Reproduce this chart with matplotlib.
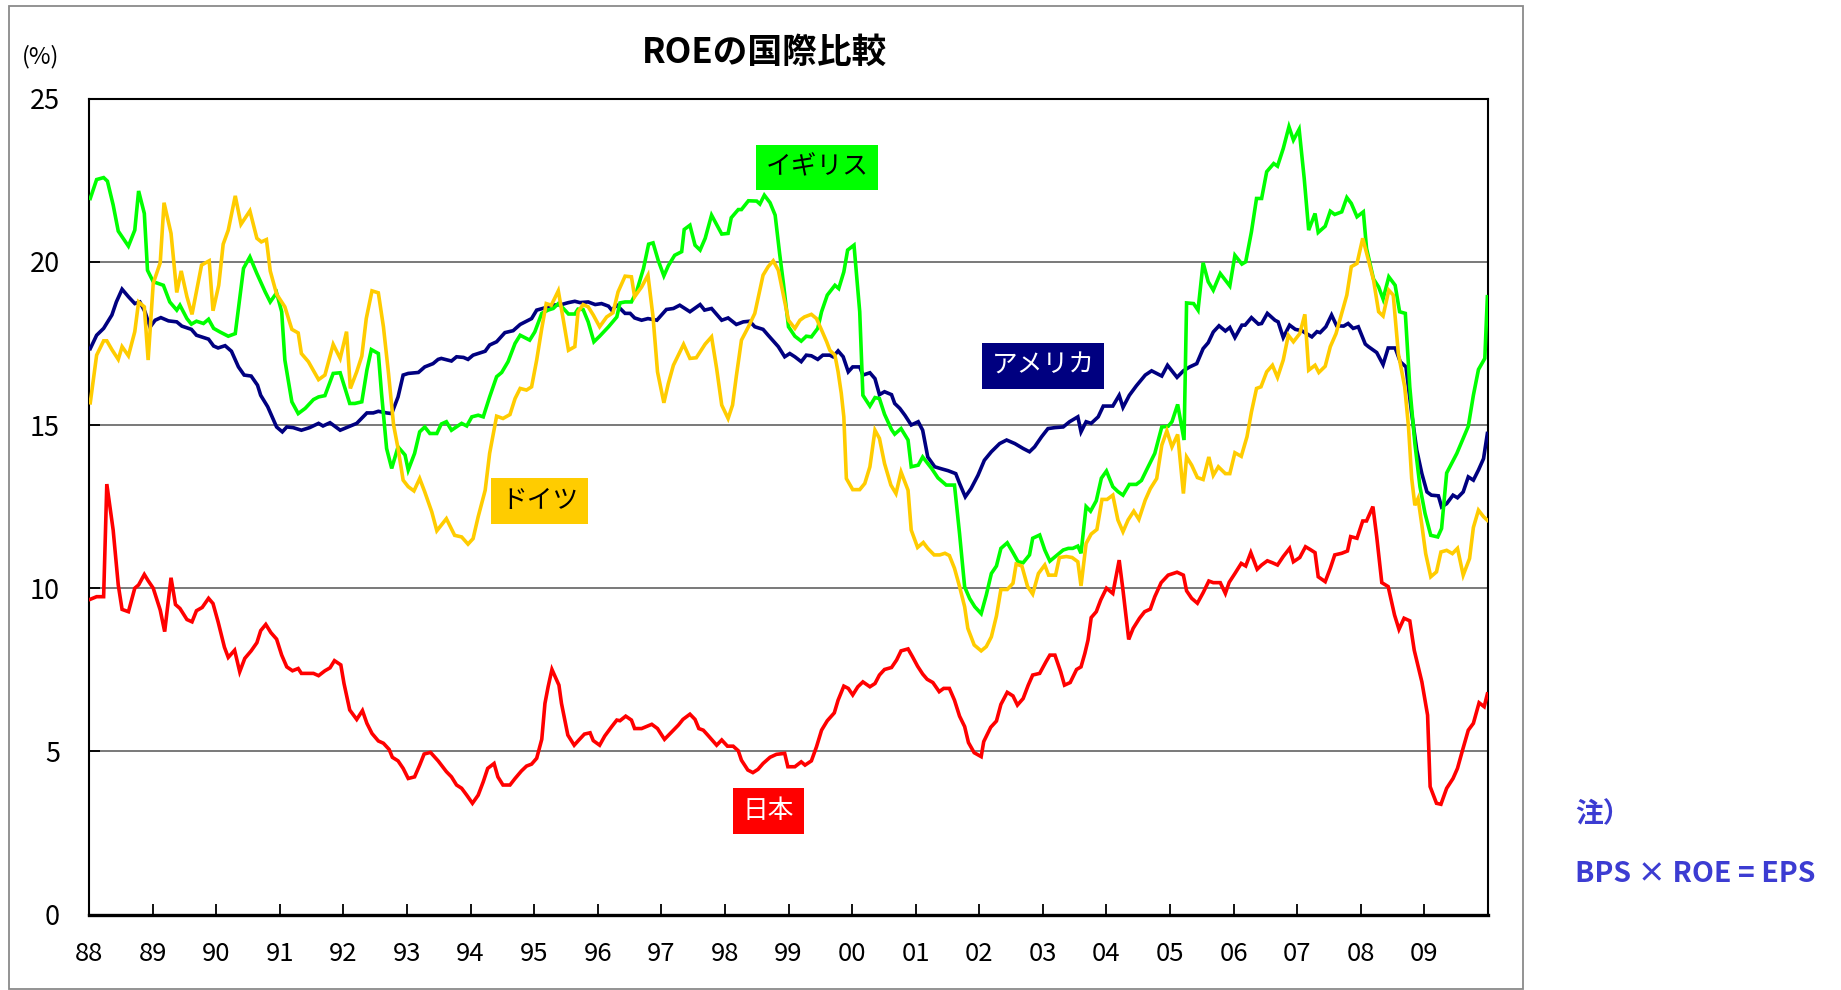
import matplotlib
matplotlib.use("Agg")
import matplotlib.pyplot as plt
from matplotlib.patches import Rectangle

plt.rcParams["font.family"] = ["Noto Sans CJK JP", "DejaVu Sans"]

# (decimal year, ROE %)
usa = [
    (1988.02, 17.34), (1988.12, 17.75), (1988.23, 17.96), (1988.36, 18.37), (1988.43, 18.77),
    (1988.52, 19.16), (1988.62, 18.93), (1988.72, 18.72), (1988.80, 18.77), (1988.88, 18.47),
    (1988.96, 18.00), (1989.04, 18.21), (1989.13, 18.29), (1989.25, 18.19), (1989.38, 18.16),
    (1989.46, 18.03), (1989.61, 17.93), (1989.69, 17.75), (1989.88, 17.63), (1989.96, 17.42),
    (1990.03, 17.36), (1990.14, 17.43), (1990.24, 17.26), (1990.35, 16.78), (1990.44, 16.53),
    (1990.55, 16.50), (1990.65, 16.22), (1990.70, 15.91), (1990.81, 15.56), (1990.95, 14.94),
    (1991.04, 14.79), (1991.11, 14.94), (1991.21, 14.92), (1991.34, 14.84), (1991.47, 14.92),
    (1991.61, 15.05), (1991.68, 14.97), (1991.79, 15.07), (1991.95, 14.84), (1992.05, 14.92),
    (1992.21, 15.05), (1992.37, 15.37), (1992.47, 15.37), (1992.55, 15.42), (1992.68, 15.37),
    (1992.76, 15.35), (1992.86, 15.86), (1992.94, 16.53), (1993.02, 16.58), (1993.18, 16.61),
    (1993.28, 16.78), (1993.41, 16.88), (1993.49, 17.01), (1993.54, 17.04), (1993.70, 16.96),
    (1993.78, 17.09), (1993.89, 17.07), (1993.96, 17.01), (1994.04, 17.14), (1994.23, 17.26),
    (1994.30, 17.45), (1994.41, 17.55), (1994.54, 17.83), (1994.67, 17.89), (1994.78, 18.08),
    (1994.96, 18.26), (1995.04, 18.52), (1995.17, 18.59), (1995.27, 18.67), (1995.43, 18.69),
    (1995.54, 18.75), (1995.64, 18.79), (1995.72, 18.75), (1995.85, 18.77), (1995.96, 18.69),
    (1996.06, 18.72), (1996.17, 18.64), (1996.22, 18.52), (1996.30, 18.67), (1996.43, 18.42),
    (1996.51, 18.42), (1996.58, 18.28), (1996.69, 18.21), (1996.79, 18.26), (1996.93, 18.21),
    (1997.08, 18.54), (1997.19, 18.57), (1997.29, 18.67), (1997.45, 18.47), (1997.61, 18.69),
    (1997.68, 18.52), (1997.79, 18.57), (1997.95, 18.21), (1998.05, 18.28), (1998.18, 18.08),
    (1998.29, 18.16), (1998.39, 18.18), (1998.47, 18.01), (1998.60, 17.93), (1998.68, 17.75),
    (1998.84, 17.40), (1998.94, 17.09), (1999.02, 17.19), (1999.10, 17.09), (1999.20, 16.94),
    (1999.28, 17.14), (1999.36, 17.12), (1999.46, 17.01), (1999.54, 17.14), (1999.65, 17.14),
    (1999.70, 17.09), (1999.78, 17.27), (1999.86, 17.09), (1999.94, 16.63), (2000.01, 16.78),
    (2000.12, 16.78), (2000.17, 16.53), (2000.28, 16.60), (2000.36, 16.42), (2000.43, 15.93),
    (2000.51, 16.02), (2000.62, 15.93), (2000.67, 15.66), (2000.75, 15.51), (2000.83, 15.30),
    (2000.93, 15.00), (2001.04, 15.10), (2001.11, 14.84), (2001.19, 14.02), (2001.30, 13.72),
    (2001.40, 13.66), (2001.51, 13.60), (2001.63, 13.51), (2001.69, 13.21), (2001.78, 12.80),
    (2001.87, 13.05), (2001.98, 13.46), (2002.08, 13.92), (2002.19, 14.18), (2002.32, 14.43),
    (2002.43, 14.54), (2002.56, 14.43), (2002.69, 14.28), (2002.79, 14.18), (2002.87, 14.33),
    (2002.98, 14.64), (2003.08, 14.89), (2003.19, 14.92), (2003.32, 14.94), (2003.42, 15.10),
    (2003.55, 15.25), (2003.60, 14.79), (2003.68, 15.10), (2003.76, 15.05), (2003.87, 15.25),
    (2003.95, 15.58), (2004.10, 15.58), (2004.20, 15.91), (2004.26, 15.54), (2004.36, 15.91),
    (2004.47, 16.20), (2004.61, 16.53), (2004.71, 16.66), (2004.87, 16.50), (2004.96, 16.83),
    (2005.11, 16.46), (2005.21, 16.66), (2005.31, 16.78), (2005.42, 16.88), (2005.52, 17.34),
    (2005.60, 17.52), (2005.68, 17.85), (2005.77, 18.04), (2005.87, 17.88), (2005.94, 17.99),
    (2006.02, 17.68), (2006.13, 18.06), (2006.18, 18.06), (2006.28, 18.29), (2006.39, 18.09),
    (2006.44, 18.11), (2006.53, 18.42), (2006.65, 18.21), (2006.70, 18.16), (2006.78, 17.68),
    (2006.88, 18.06), (2006.97, 17.93), (2007.07, 17.89), (2007.23, 17.70), (2007.31, 17.86),
    (2007.36, 17.83), (2007.45, 18.01), (2007.54, 18.37), (2007.62, 18.04), (2007.73, 18.03),
    (2007.80, 18.11), (2007.88, 17.96), (2007.96, 18.01), (2008.07, 17.48), (2008.12, 17.40),
    (2008.25, 17.22), (2008.35, 16.85), (2008.43, 17.36), (2008.54, 17.36), (2008.62, 16.94),
    (2008.71, 16.78), (2008.80, 15.35), (2008.88, 14.23), (2008.96, 13.51), (2009.04, 12.95),
    (2009.11, 12.85), (2009.22, 12.83), (2009.27, 12.49), (2009.35, 12.59), (2009.45, 12.85),
    (2009.52, 12.77), (2009.61, 12.95), (2009.69, 13.41), (2009.77, 13.31), (2009.85, 13.62),
    (2009.93, 13.97), (2009.99, 14.74),
]

uk = [
    (1988.02, 21.94), (1988.12, 22.52), (1988.23, 22.58), (1988.29, 22.47), (1988.38, 21.74),
    (1988.46, 20.94), (1988.62, 20.48), (1988.72, 20.97), (1988.78, 22.17), (1988.87, 21.48),
    (1988.92, 19.74), (1989.01, 19.39), (1989.17, 19.28), (1989.27, 18.77), (1989.38, 18.52),
    (1989.43, 18.67), (1989.54, 18.26), (1989.61, 18.09), (1989.69, 18.18), (1989.80, 18.11),
    (1989.88, 18.24), (1989.96, 17.96), (1990.06, 17.85), (1990.19, 17.72), (1990.30, 17.80),
    (1990.43, 19.80), (1990.53, 20.15), (1990.64, 19.64), (1990.77, 19.08), (1990.85, 18.77),
    (1990.95, 19.05), (1991.03, 18.47), (1991.08, 16.99), (1991.19, 15.71), (1991.29, 15.35),
    (1991.40, 15.51), (1991.53, 15.78), (1991.61, 15.86), (1991.71, 15.90), (1991.84, 16.58),
    (1991.95, 16.60), (1992.10, 15.66), (1992.18, 15.66), (1992.29, 15.71), (1992.37, 16.68),
    (1992.44, 17.31), (1992.55, 17.19), (1992.60, 15.97), (1992.68, 14.28), (1992.76, 13.67),
    (1992.86, 14.33), (1992.97, 14.08), (1993.02, 13.62), (1993.12, 14.13), (1993.20, 14.79),
    (1993.28, 14.94), (1993.36, 14.74), (1993.47, 14.74), (1993.54, 15.03), (1993.62, 15.10),
    (1993.70, 14.84), (1993.86, 15.05), (1993.94, 14.97), (1994.02, 15.25), (1994.12, 15.30),
    (1994.20, 15.25), (1994.30, 15.86), (1994.41, 16.48), (1994.49, 16.61), (1994.59, 16.94),
    (1994.70, 17.50), (1994.78, 17.75), (1994.93, 17.60), (1995.01, 17.85), (1995.12, 18.42),
    (1995.22, 18.52), (1995.30, 18.57), (1995.38, 18.72), (1995.46, 18.57), (1995.54, 18.40),
    (1995.64, 18.40), (1995.69, 18.55), (1995.77, 18.54), (1995.85, 18.16), (1995.94, 17.55),
    (1996.03, 17.72), (1996.17, 18.01), (1996.30, 18.31), (1996.35, 18.74), (1996.43, 18.77),
    (1996.53, 18.77), (1996.61, 19.08), (1996.72, 19.80), (1996.80, 20.54), (1996.87, 20.58),
    (1996.95, 20.05), (1997.04, 19.57), (1997.11, 19.88), (1997.21, 20.20), (1997.32, 20.31),
    (1997.36, 20.99), (1997.45, 21.12), (1997.53, 20.51), (1997.61, 20.36), (1997.69, 20.72),
    (1997.79, 21.43), (1997.95, 20.85), (1998.05, 20.87), (1998.10, 21.35), (1998.21, 21.60),
    (1998.26, 21.60), (1998.37, 21.87), (1998.50, 21.86), (1998.55, 21.77), (1998.62, 22.04),
    (1998.71, 21.81), (1998.79, 21.43), (1998.86, 20.26), (1998.92, 19.34), (1999.00, 18.01),
    (1999.10, 17.72), (1999.20, 17.57), (1999.28, 17.72), (1999.36, 17.70), (1999.46, 17.96),
    (1999.52, 18.47), (1999.61, 18.98), (1999.73, 19.28), (1999.79, 19.18), (1999.87, 19.69),
    (1999.93, 20.36), (2000.03, 20.51), (2000.12, 18.47), (2000.17, 15.91), (2000.28, 15.58),
    (2000.36, 15.84), (2000.43, 15.81), (2000.51, 15.33), (2000.62, 14.86), (2000.67, 14.72),
    (2000.77, 14.89), (2000.88, 14.54), (2000.93, 13.72), (2001.04, 13.77), (2001.11, 14.02),
    (2001.25, 13.67), (2001.35, 13.38), (2001.48, 13.16), (2001.61, 13.16), (2001.69, 11.67),
    (2001.77, 10.04), (2001.85, 9.68), (2001.93, 9.43), (2002.03, 9.22), (2002.11, 9.79),
    (2002.19, 10.45), (2002.27, 10.68), (2002.34, 11.22), (2002.44, 11.39), (2002.53, 11.09),
    (2002.61, 10.81), (2002.69, 10.78), (2002.79, 11.02), (2002.84, 11.53), (2002.95, 11.63),
    (2003.03, 11.17), (2003.11, 10.83), (2003.21, 10.99), (2003.32, 11.17), (2003.40, 11.22),
    (2003.47, 11.22), (2003.55, 11.29), (2003.60, 11.07), (2003.68, 12.50), (2003.75, 12.36),
    (2003.84, 12.68), (2003.92, 13.37), (2004.00, 13.59), (2004.10, 13.11), (2004.18, 12.96),
    (2004.26, 12.85), (2004.36, 13.18), (2004.47, 13.18), (2004.55, 13.30), (2004.63, 13.62),
    (2004.76, 14.13), (2004.87, 14.94), (2004.97, 14.96), (2005.03, 15.10), (2005.12, 15.63),
    (2005.22, 14.54), (2005.26, 18.74), (2005.37, 18.72), (2005.44, 18.52), (2005.52, 19.97),
    (2005.60, 19.39), (2005.68, 19.13), (2005.79, 19.64), (2005.87, 19.44), (2005.94, 19.26),
    (2006.02, 20.20), (2006.13, 19.93), (2006.19, 20.00), (2006.28, 20.92), (2006.36, 21.94),
    (2006.44, 21.94), (2006.52, 22.76), (2006.63, 23.01), (2006.69, 22.93), (2006.78, 23.47),
    (2006.87, 24.14), (2006.94, 23.73), (2007.03, 24.06), (2007.11, 22.55), (2007.18, 20.97),
    (2007.28, 21.48), (2007.33, 20.90), (2007.44, 21.09), (2007.52, 21.55), (2007.59, 21.45),
    (2007.70, 21.53), (2007.78, 21.97), (2007.85, 21.79), (2007.94, 21.38), (2008.04, 21.53),
    (2008.09, 20.41), (2008.20, 19.47), (2008.28, 19.23), (2008.35, 18.86), (2008.44, 19.54),
    (2008.54, 19.28), (2008.61, 18.47), (2008.70, 18.42), (2008.77, 16.17), (2008.85, 14.43),
    (2008.93, 13.11), (2009.01, 12.29), (2009.10, 11.62), (2009.21, 11.57), (2009.27, 11.83),
    (2009.35, 13.53), (2009.51, 14.13), (2009.69, 14.96), (2009.77, 15.91), (2009.85, 16.70),
    (2009.95, 17.04), (2009.99, 18.93),
]

germany = [
    (1988.02, 15.68), (1988.12, 17.14), (1988.23, 17.58), (1988.28, 17.58), (1988.36, 17.31),
    (1988.46, 17.01), (1988.52, 17.40), (1988.62, 17.12), (1988.72, 17.86), (1988.78, 18.77),
    (1988.87, 18.62), (1988.93, 16.99), (1989.01, 19.34), (1989.12, 19.97), (1989.18, 21.81),
    (1989.29, 20.87), (1989.38, 19.06), (1989.45, 19.72), (1989.54, 18.93), (1989.62, 18.39),
    (1989.77, 19.90), (1989.89, 20.03), (1989.95, 18.50), (1990.04, 19.28), (1990.11, 20.54),
    (1990.19, 20.97), (1990.30, 22.02), (1990.39, 21.15), (1990.53, 21.56), (1990.64, 20.72),
    (1990.71, 20.61), (1990.79, 20.68), (1990.85, 19.72), (1990.95, 19.01), (1991.08, 18.62),
    (1991.19, 17.93), (1991.29, 17.82), (1991.34, 17.19), (1991.45, 16.94), (1991.61, 16.39),
    (1991.71, 16.53), (1991.84, 17.47), (1991.95, 17.04), (1992.05, 17.86), (1992.11, 16.12),
    (1992.21, 16.63), (1992.29, 17.11), (1992.36, 18.26), (1992.45, 19.11), (1992.55, 19.05),
    (1992.63, 18.01), (1992.71, 16.58), (1992.79, 15.00), (1992.86, 14.28), (1992.94, 13.31),
    (1993.02, 13.11), (1993.11, 12.98), (1993.20, 13.36), (1993.28, 12.95), (1993.39, 12.34),
    (1993.47, 11.76), (1993.62, 12.13), (1993.75, 11.62), (1993.86, 11.57), (1993.96, 11.35),
    (1994.04, 11.52), (1994.12, 12.19), (1994.23, 13.00), (1994.30, 14.13), (1994.41, 15.27),
    (1994.51, 15.20), (1994.62, 15.32), (1994.70, 15.81), (1994.78, 16.12), (1994.88, 16.07),
    (1994.96, 16.17), (1995.04, 16.99), (1995.12, 17.96), (1995.19, 18.72), (1995.27, 18.67),
    (1995.38, 19.11), (1995.46, 18.21), (1995.54, 17.29), (1995.64, 17.40), (1995.69, 18.47),
    (1995.77, 18.69), (1995.85, 18.62), (1995.93, 18.37), (1996.03, 18.01), (1996.14, 18.31),
    (1996.24, 18.44), (1996.32, 19.08), (1996.43, 19.56), (1996.53, 19.54), (1996.58, 18.93),
    (1996.69, 19.23), (1996.79, 19.59), (1996.87, 18.31), (1996.94, 16.63), (1997.04, 15.68),
    (1997.11, 16.27), (1997.19, 16.83), (1997.35, 17.47), (1997.45, 17.04), (1997.55, 17.06),
    (1997.69, 17.48), (1997.79, 17.70), (1997.87, 16.73), (1997.95, 15.61), (1998.05, 15.20),
    (1998.12, 15.61), (1998.18, 16.50), (1998.26, 17.60), (1998.37, 18.01), (1998.47, 18.42),
    (1998.60, 19.59), (1998.68, 19.85), (1998.76, 20.03), (1998.84, 19.74), (1998.92, 18.98),
    (1999.00, 18.21), (1999.10, 17.96), (1999.18, 18.21), (1999.25, 18.31), (1999.36, 18.39),
    (1999.44, 18.26), (1999.52, 17.91), (1999.60, 17.55), (1999.65, 17.29), (1999.73, 17.14),
    (1999.78, 16.63), (1999.83, 15.97), (1999.87, 15.25), (1999.91, 13.36), (2000.01, 13.02),
    (2000.12, 13.02), (2000.20, 13.21), (2000.28, 13.72), (2000.36, 14.84), (2000.43, 14.59),
    (2000.51, 13.82), (2000.61, 13.16), (2000.69, 12.90), (2000.77, 13.56), (2000.88, 13.00),
    (2000.93, 11.78), (2001.03, 11.25), (2001.12, 11.40), (2001.19, 11.22), (2001.29, 11.02),
    (2001.38, 11.02), (2001.46, 11.07), (2001.53, 11.00), (2001.61, 10.61), (2001.69, 10.05),
    (2001.77, 9.43), (2001.82, 8.77), (2001.92, 8.26), (2002.03, 8.08), (2002.11, 8.21),
    (2002.19, 8.51), (2002.27, 9.15), (2002.34, 9.96), (2002.44, 9.96), (2002.53, 10.15),
    (2002.58, 10.74), (2002.67, 10.68), (2002.76, 10.05), (2002.84, 9.82), (2002.93, 10.45),
    (2003.03, 10.71), (2003.09, 10.40), (2003.20, 10.40), (2003.26, 10.94), (2003.37, 10.97),
    (2003.46, 10.94), (2003.55, 10.81), (2003.60, 10.07), (2003.68, 11.37), (2003.76, 11.66),
    (2003.85, 11.80), (2003.93, 12.72), (2004.01, 12.72), (2004.10, 12.85), (2004.18, 12.09),
    (2004.26, 11.73), (2004.34, 12.09), (2004.43, 12.36), (2004.51, 12.11), (2004.61, 12.70),
    (2004.69, 13.05), (2004.79, 13.36), (2004.87, 14.38), (2004.95, 14.82), (2005.03, 14.33),
    (2005.12, 14.71), (2005.21, 12.90), (2005.26, 14.02), (2005.34, 13.77), (2005.43, 13.39),
    (2005.52, 13.33), (2005.61, 14.02), (2005.68, 13.46), (2005.76, 13.72), (2005.87, 13.51),
    (2005.94, 13.51), (2006.02, 14.15), (2006.12, 14.04), (2006.21, 14.64), (2006.28, 15.40),
    (2006.36, 16.12), (2006.43, 16.17), (2006.52, 16.63), (2006.61, 16.83), (2006.69, 16.46),
    (2006.78, 16.99), (2006.86, 17.75), (2006.94, 17.55), (2007.04, 17.80), (2007.12, 18.39),
    (2007.18, 16.68), (2007.28, 16.83), (2007.34, 16.61), (2007.44, 16.80), (2007.52, 17.40),
    (2007.61, 17.80), (2007.70, 18.42), (2007.78, 18.98), (2007.85, 19.85), (2007.94, 19.95),
    (2008.03, 20.72), (2008.12, 20.05), (2008.20, 19.44), (2008.28, 18.47), (2008.35, 18.34),
    (2008.44, 19.13), (2008.51, 18.98), (2008.59, 17.19), (2008.69, 16.17), (2008.75, 14.94),
    (2008.80, 13.36), (2008.85, 12.54), (2008.90, 12.75), (2008.96, 11.93), (2009.02, 11.06),
    (2009.10, 10.35), (2009.19, 10.50), (2009.26, 11.11), (2009.35, 11.16), (2009.44, 11.06),
    (2009.52, 11.22), (2009.61, 10.40), (2009.71, 10.91), (2009.77, 11.86), (2009.85, 12.39),
    (2009.93, 12.19), (2009.99, 12.08),
]

japan = [
    (1988.02, 9.66), (1988.12, 9.74), (1988.23, 9.74), (1988.28, 13.19), (1988.38, 11.78),
    (1988.46, 10.10), (1988.52, 9.35), (1988.62, 9.28), (1988.72, 10.00), (1988.78, 10.10),
    (1988.87, 10.42), (1988.93, 10.23), (1989.01, 10.00), (1989.12, 9.33), (1989.19, 8.67),
    (1989.29, 10.32), (1989.36, 9.50), (1989.43, 9.38), (1989.54, 9.04), (1989.62, 8.97),
    (1989.69, 9.31), (1989.78, 9.41), (1989.88, 9.69), (1989.95, 9.53), (1990.03, 8.97),
    (1990.13, 8.19), (1990.19, 7.88), (1990.29, 8.10), (1990.37, 7.44), (1990.45, 7.85),
    (1990.55, 8.08), (1990.64, 8.33), (1990.70, 8.70), (1990.78, 8.89), (1990.86, 8.64),
    (1990.95, 8.44), (1991.03, 7.95), (1991.11, 7.59), (1991.20, 7.47), (1991.29, 7.54),
    (1991.34, 7.39), (1991.53, 7.39), (1991.61, 7.32), (1991.71, 7.47), (1991.79, 7.56),
    (1991.86, 7.78), (1991.96, 7.65), (1992.01, 7.08), (1992.10, 6.27), (1992.21, 5.98),
    (1992.30, 6.25), (1992.37, 5.86), (1992.45, 5.55), (1992.55, 5.32), (1992.63, 5.25),
    (1992.72, 5.06), (1992.77, 4.82), (1992.86, 4.71), (1992.94, 4.48), (1993.02, 4.17),
    (1993.12, 4.22), (1993.20, 4.58), (1993.27, 4.92), (1993.37, 4.97), (1993.49, 4.71),
    (1993.62, 4.38), (1993.70, 4.22), (1993.78, 3.97), (1993.86, 3.87), (1993.94, 3.66),
    (1994.03, 3.41), (1994.12, 3.66), (1994.20, 4.07), (1994.27, 4.48), (1994.37, 4.63),
    (1994.43, 4.22), (1994.51, 3.97), (1994.62, 3.97), (1994.70, 4.17), (1994.80, 4.40),
    (1994.88, 4.55), (1994.96, 4.61), (1995.04, 4.79), (1995.12, 5.37), (1995.17, 6.47),
    (1995.22, 6.98), (1995.28, 7.51), (1995.39, 7.03), (1995.43, 6.47), (1995.53, 5.50),
    (1995.63, 5.19), (1995.69, 5.32), (1995.79, 5.53), (1995.88, 5.57), (1995.93, 5.33),
    (1996.03, 5.19), (1996.11, 5.47), (1996.22, 5.76), (1996.30, 5.96), (1996.35, 5.94),
    (1996.44, 6.08), (1996.53, 5.96), (1996.58, 5.70), (1996.69, 5.70), (1996.85, 5.83),
    (1996.94, 5.70), (1997.05, 5.37), (1997.15, 5.57), (1997.27, 5.81), (1997.34, 5.98),
    (1997.45, 6.14), (1997.53, 5.98), (1997.59, 5.70), (1997.66, 5.65), (1997.73, 5.50),
    (1997.82, 5.30), (1997.87, 5.19), (1997.95, 5.35), (1998.04, 5.16), (1998.13, 5.16),
    (1998.21, 5.02), (1998.26, 4.73), (1998.36, 4.43), (1998.44, 4.35), (1998.52, 4.45),
    (1998.60, 4.63), (1998.71, 4.82), (1998.81, 4.91), (1998.94, 4.94), (1998.99, 4.53),
    (1999.10, 4.53), (1999.20, 4.68), (1999.26, 4.58), (1999.36, 4.71), (1999.44, 5.14),
    (1999.52, 5.65), (1999.61, 5.94), (1999.72, 6.18), (1999.78, 6.57), (1999.87, 7.00),
    (1999.94, 6.93), (2000.01, 6.73), (2000.09, 6.98), (2000.17, 7.13), (2000.28, 6.98),
    (2000.36, 7.08), (2000.43, 7.34), (2000.51, 7.51), (2000.62, 7.57), (2000.70, 7.80),
    (2000.77, 8.08), (2000.88, 8.14), (2000.95, 7.90), (2001.03, 7.61), (2001.11, 7.37),
    (2001.18, 7.21), (2001.27, 7.11), (2001.37, 6.83), (2001.44, 6.93), (2001.53, 6.93),
    (2001.61, 6.57), (2001.69, 6.08), (2001.77, 5.76), (2001.83, 5.27), (2001.92, 4.96),
    (2002.03, 4.84), (2002.07, 5.30), (2002.18, 5.74), (2002.27, 5.93), (2002.34, 6.44),
    (2002.44, 6.81), (2002.53, 6.70), (2002.60, 6.42), (2002.69, 6.62), (2002.77, 7.03),
    (2002.84, 7.34), (2002.95, 7.39), (2003.05, 7.75), (2003.11, 7.95), (2003.19, 7.95),
    (2003.28, 7.44), (2003.34, 7.03), (2003.43, 7.11), (2003.53, 7.51), (2003.60, 7.59),
    (2003.66, 8.00), (2003.71, 8.41), (2003.76, 9.10), (2003.84, 9.28), (2003.91, 9.64),
    (2004.00, 10.00), (2004.10, 9.84), (2004.20, 10.86), (2004.26, 9.94), (2004.35, 8.43),
    (2004.42, 8.77), (2004.52, 9.08), (2004.60, 9.28), (2004.69, 9.36), (2004.76, 9.74),
    (2004.86, 10.17), (2004.97, 10.40), (2005.11, 10.49), (2005.21, 10.40), (2005.26, 9.92),
    (2005.34, 9.69), (2005.43, 9.54), (2005.52, 9.86), (2005.61, 10.22), (2005.68, 10.17),
    (2005.79, 10.17), (2005.87, 9.84), (2005.93, 10.18), (2006.02, 10.45), (2006.12, 10.76),
    (2006.19, 10.68), (2006.27, 11.09), (2006.37, 10.58), (2006.44, 10.71), (2006.53, 10.84),
    (2006.61, 10.78), (2006.69, 10.71), (2006.78, 10.97), (2006.88, 11.22), (2006.94, 10.81),
    (2007.04, 10.94), (2007.13, 11.27), (2007.20, 11.19), (2007.28, 11.09), (2007.33, 10.35),
    (2007.44, 10.20), (2007.52, 10.61), (2007.59, 11.02), (2007.70, 11.07), (2007.79, 11.14),
    (2007.84, 11.58), (2007.94, 11.53), (2008.03, 12.06), (2008.09, 12.06), (2008.19, 12.50),
    (2008.25, 11.58), (2008.33, 10.17), (2008.43, 10.05), (2008.53, 9.18), (2008.60, 8.74),
    (2008.68, 9.08), (2008.77, 9.00), (2008.84, 8.10), (2008.96, 7.13), (2009.05, 6.11),
    (2009.09, 3.92), (2009.19, 3.41), (2009.26, 3.38), (2009.35, 3.87), (2009.45, 4.17),
    (2009.52, 4.48), (2009.60, 5.04), (2009.69, 5.65), (2009.77, 5.86), (2009.86, 6.49),
    (2009.94, 6.37), (2009.99, 6.76),
]

years = list(range(1988, 2010))
year_labels = [f"{y % 100:02d}" for y in years]
y_ticks = [0, 5, 10, 15, 20, 25]

series = [
    ("アメリカ", usa, "#000080", "white", (2003.0, 16.81)),
    ("イギリス", uk, "#00ff00", "black", (1999.45, 22.89)),
    ("ドイツ", germany, "#ffcc00", "black", (1995.09, 12.67)),
    ("日本", japan, "#ff0000", "white", (1998.68, 3.17)),
]

W, H = 1841, 990
fig = plt.figure(figsize=(W / 100, H / 100), dpi=100)
ax = fig.add_axes([89 / W, 1 - 914.6 / H, (1488 - 89) / W, (914.6 - 98.6) / H])

# outer frame
fig.patches.append(Rectangle((9 / W, 1 / H), (1523 - 9) / W, (989 - 6) / H,
                             transform=fig.transFigure, fill=False,
                             edgecolor="#8a8a8a", linewidth=1.3))

for name, pts, color, fg, pos in series:
    t = [p[0] for p in pts]
    v = [p[1] for p in pts]
    ax.plot(t, v, color=color, linewidth=2.6, solid_joinstyle="miter", zorder=3)
    ax.text(pos[0], pos[1], name, color=fg, fontsize=18.5, ha="center", va="center",
            zorder=5,
            bbox=dict(boxstyle="square,pad=0.38", facecolor=color, edgecolor="none"))

ax.set_xlim(1988, 2010)
ax.set_ylim(0, 25)
for yv in y_ticks[1:-1]:
    ax.axhline(yv, color="#6e6e6e", linewidth=1.3, zorder=1)

ax.set_xticks(years)
ax.set_xticklabels(year_labels)
ax.set_yticks(y_ticks)
ax.set_yticklabels([str(v) for v in y_ticks])
ax.tick_params(axis="x", direction="in", length=8, width=1.3, pad=19, labelsize=18.5)
ax.tick_params(axis="y", direction="in", length=8, width=1.3, pad=21, labelsize=19.5)

for side in ["left", "top", "right"]:
    ax.spines[side].set_linewidth(1.5)
ax.spines["bottom"].set_linewidth(2.4)

fig.text(765 / W, 1 - 52 / H, "ROEの国際比較", fontsize=25, fontweight="bold",
         ha="center", va="center")
fig.text(41 / W, 1 - 57 / H, "(%)", fontsize=17, ha="center", va="center")

note_color = "#3c3cd2"
fig.text(1575 / W, 1 - 814 / H, "注）", fontsize=20, fontweight="bold",
         color=note_color, ha="left", va="center")
fig.text(1575 / W, 1 - 874 / H, "BPS × ROE = EPS", fontsize=20.5, fontweight="bold",
         color=note_color, ha="left", va="center")

fig.savefig("out.png", dpi=100)
